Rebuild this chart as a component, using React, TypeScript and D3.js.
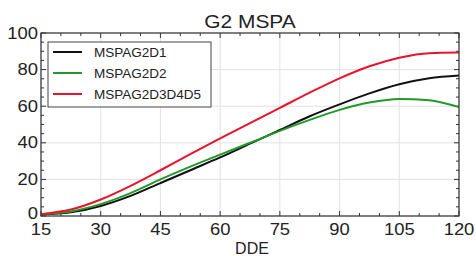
import React from "react";
import * as d3 from "d3";

const xValues = [15, 22.5, 30, 37.5, 45, 52.5, 60, 67.5, 75, 82.5, 90, 97.5, 105, 112.5, 120];
const black = [0.8, 2, 5.5, 11, 18, 25, 32, 39.5, 47, 54.5, 61, 67, 72, 75.3, 76.8];
const green = [1, 2.5, 6.5, 12.5, 20, 27, 33.5, 40, 46.5, 52.5, 58, 62, 64, 63.3, 59.5];
const red = [1, 3.5, 9, 16.5, 25, 33.8, 42.4, 50.8, 59.1, 67.4, 75.2, 81.8, 86.5, 89, 89.3];
const seriesNames = ["MSPAG2D1", "MSPAG2D2", "MSPAG2D3D4D5"];
const xTicks = [15, 30, 45, 60, 75, 90, 105, 120];
const yTicks = [0, 20, 40, 60, 80, 100];
const title = "G2 MSPA";
const xLabel = "DDE";

const W = 476, H = 256;
const M = { left: 41, right: 459, top: 33, bottom: 216 };
const colors = ["#111111", "#22992a", "#e8142c"];

export default function App() {
  const x = d3.scaleLinear().domain([15, 120]).range([M.left, M.right]);
  const y = d3.scaleLinear().domain([0, 100]).range([M.bottom, M.top]);
  const line = d3
    .line<number>()
    .x((_, i) => x(xValues[i]))
    .y((d) => y(d))
    .curve(d3.curveMonotoneX);
  const data = [black, green, red];
  const xMinor = d3.range(15, 121, 5);
  const yMinor = d3.range(0, 101, 5);
  const axisColor = "#333";
  const font = "Liberation Sans, Arial, sans-serif";

  return (
    <svg width={W} height={H} style={{ position: "absolute", left: 0, top: 0 }} fontFamily={font}>
      <rect width={W} height={H} fill="#fff" />
      {/* grid */}
      {xTicks.map((t) => (
        <line key={"gx" + t} x1={x(t)} x2={x(t)} y1={M.top} y2={M.bottom} stroke="#e2e2e2" strokeWidth={1} />
      ))}
      {yTicks.map((t) => (
        <line key={"gy" + t} x1={M.left} x2={M.right} y1={y(t)} y2={y(t)} stroke="#e2e2e2" strokeWidth={1} />
      ))}
      {/* minor ticks */}
      {xMinor.map((t) => (
        <g key={"mx" + t} stroke={axisColor} strokeWidth={1}>
          <line x1={x(t)} x2={x(t)} y1={M.bottom} y2={M.bottom - (t % 15 === 0 ? 5 : 3)} />
          <line x1={x(t)} x2={x(t)} y1={M.top} y2={M.top + (t % 15 === 0 ? 5 : 3)} />
        </g>
      ))}
      {yMinor.map((t) => (
        <g key={"my" + t} stroke={axisColor} strokeWidth={1}>
          <line x1={M.left} x2={M.left + (t % 20 === 0 ? 5 : 3)} y1={y(t)} y2={y(t)} />
          <line x1={M.right} x2={M.right - (t % 20 === 0 ? 5 : 3)} y1={y(t)} y2={y(t)} />
        </g>
      ))}
      {/* series */}
      {data.map((d, i) => (
        <path key={i} d={line(d) || ""} fill="none" stroke={colors[i]} strokeWidth={2} />
      ))}
      {/* frame */}
      <rect x={M.left} y={M.top} width={M.right - M.left} height={M.bottom - M.top} fill="none" stroke={axisColor} strokeWidth={1.2} />
      {/* tick labels */}
      {xTicks.map((t) => (
        <text key={"tx" + t} transform={`translate(${x(t)},235) scale(1.15,1)`} textAnchor="middle" fontSize={16} fill="#222">
          {t}
        </text>
      ))}
      {yTicks.map((t) => (
        <text key={"ty" + t} transform={`translate(38,${y(t) + 5.5 - (t === 0 ? 3 : 0)}) scale(1.15,1)`} textAnchor="end" fontSize={16} fill="#222">
          {t}
        </text>
      ))}
      {/* title & axis label */}
      <text transform={`translate(${(M.left + M.right) / 2},28) scale(1.1,1)`} textAnchor="middle" fontSize={19} fill="#222">
        {title}
      </text>
      <text x={(M.left + M.right) / 2 + 2} y={254} textAnchor="middle" fontSize={16} fill="#222">
        {xLabel}
      </text>
      {/* legend */}
      <rect x={48} y={42} width={163} height={65} fill="#fff" stroke="#444" strokeWidth={1} />
      {seriesNames.map((n, i) => (
        <g key={n}>
          <line x1={53} x2={82} y1={52 + i * 21} y2={52 + i * 21} stroke={colors[i]} strokeWidth={2} />
          <text x={94} y={52 + i * 21 + 5} fontSize={13.5} fill="#222">
            {n}
          </text>
        </g>
      ))}
    </svg>
  );
}
